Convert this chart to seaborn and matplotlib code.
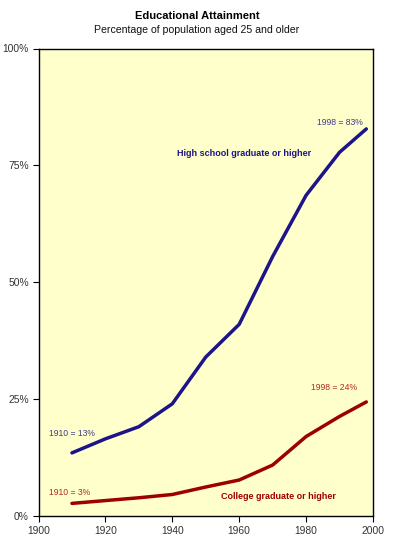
import matplotlib
matplotlib.use("Agg")
import matplotlib.pyplot as plt
import seaborn as sns
import pandas as pd
from matplotlib.ticker import FuncFormatter

years = [1910, 1920, 1930, 1940, 1950, 1960, 1970, 1980, 1990, 1998]
high_school = [13.5, 16.5, 19.1, 24.0, 34.0, 41.0, 55.5, 68.6, 77.8, 82.8]
college = [2.7, 3.3, 3.9, 4.6, 6.2, 7.7, 10.9, 17.0, 21.3, 24.4]
series_names = ["High school graduate or higher", "College graduate or higher"]
colors = ["#1c1488", "#9c0000"]
note_colors = ["#3c3c88", "#b02a2a"]

df = pd.DataFrame({
    "year": years * 2,
    "pct": high_school + college,
    "series": [series_names[0]] * len(years) + [series_names[1]] * len(years),
})

sns.set_style("white")
plt.rcParams['font.family'] = ['Liberation Sans', 'DejaVu Sans']

fig = plt.figure(figsize=(3.94, 5.45), dpi=100)
ax = fig.add_axes([38.5 / 394, 29 / 545, (373 - 38.5) / 394, (516 - 48.5) / 545])
ax.set_facecolor("#ffffcc")

sns.lineplot(data=df, x="year", y="pct", hue="series", palette=colors,
             linewidth=2.5, legend=False, ax=ax)

ax.set_xlim(1900, 2000)
ax.set_ylim(0, 100)
ax.set_xticks([1900, 1920, 1940, 1960, 1980, 2000])
ax.set_yticks([0, 25, 50, 75, 100])
ax.yaxis.set_major_formatter(FuncFormatter(lambda v, p: f"{int(v)}%"))
ax.set_xlabel("")
ax.set_ylabel("")
for s in ax.spines.values():
    s.set_color("black")
    s.set_linewidth(1.0)
    s.set_visible(True)
ax.tick_params(axis="both", which="major", bottom=True, left=True, direction="out",
               length=4, width=0.8, color="black",
               labelsize=7.4, labelcolor="#333333", pad=3)

# annotations
ax.text(1903, 17.7, "1910 = 13%", color=note_colors[0], fontsize=6.2, va="center", ha="left")
ax.text(1997, 84.2, "1998 = 83%", color=note_colors[0], fontsize=6.2, va="center", ha="right")
ax.text(1941.5, 77.6, series_names[0], color=colors[0], fontsize=6.5,
        fontweight="bold", va="center", ha="left")
ax.text(1995.2, 27.4, "1998 = 24%", color=note_colors[1], fontsize=6.2, va="center", ha="right")
ax.text(1903, 5.1, "1910 = 3%", color=note_colors[1], fontsize=6.2, va="center", ha="left")
ax.text(1954.6, 4.1, series_names[1], color=colors[1], fontsize=6.5,
        fontweight="bold", va="center", ha="left")

fig.text(0.5, 1 - 16 / 545, "Educational Attainment", ha="center", va="center",
         fontsize=8, fontweight="bold", color="black")
fig.text(0.5, 1 - 30 / 545, "Percentage of population aged 25 and older", ha="center",
         va="center", fontsize=7.6, color="#111111")

fig.savefig("out.png", dpi=100, facecolor="white")
